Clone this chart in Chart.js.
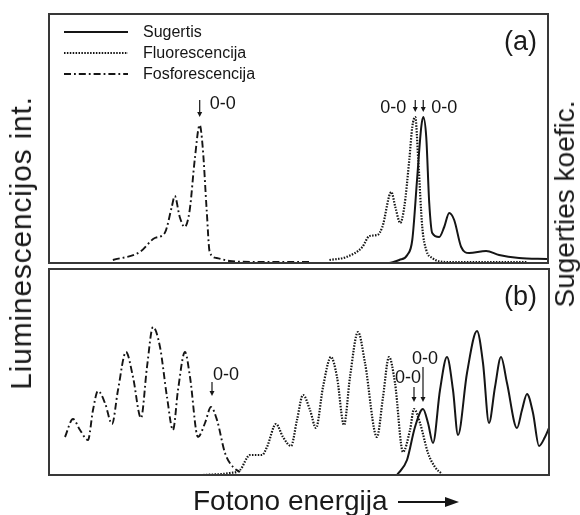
<!DOCTYPE html>
<html><head><meta charset="utf-8">
<script src="https://cdn.jsdelivr.net/npm/chart.js@4.4.1/dist/chart.umd.min.js"></script>
<style>
html,body{margin:0;padding:0;background:#fff;}
#wrap{position:relative;width:580px;height:515px;overflow:hidden;font-family:"Liberation Sans",Arial,sans-serif;color:#1a1a1a;}
canvas{position:absolute;left:0;top:0;}
.lbl{position:absolute;white-space:nowrap;line-height:1;}
.rot{transform:translate(-50%,-50%) rotate(-90deg);}
</style></head><body>
<div id="wrap">
<canvas id="ca" width="580" height="515"></canvas>
<canvas id="cb" width="580" height="515"></canvas>
<div class="lbl rot" style="left:21px;top:243px;font-size:30px;letter-spacing:0.8px;">Liuminescencijos int.</div>
<div class="lbl rot" style="left:565px;top:204px;font-size:28px;">Sugerties koefic.</div>
<div class="lbl" style="left:193px;top:487px;font-size:28px;">Fotono energija</div>
<div class="lbl" style="left:504px;top:28px;font-size:27px;">(a)</div>
<div class="lbl" style="left:504px;top:283px;font-size:27px;">(b)</div>
</div>
<script>
// ---------- data (arbitrary energy units / intensity units) ----------
const seriesLabels = ['Sugertis', 'Fluorescencija', 'Fosforescencija'];

// Panel (a)
const absA_x = [341,351,359,364,369,373,375,378,381,384,391,396,401,406,413,421,438,451,471,499];
const absA_y = [0,3,8,23,86,136,146,126,60,30,26,36,50,43,16,10,12,8,5,4];
const fluA_x = [281,298,314,321,329,334,343,347,352,356,361,364,367,370,374,378,384,398,479];
const fluA_y = [3,6,16,27,28,36,71,56,40,56,103,136,146,103,36,13,5,1,1];
const phoA_x = [64,91,106,116,123,126,131,136,141,146,151,154,158,161,168,181,211,261];
const phoA_y = [3,11,25,30,56,67,46,36,53,103,138,116,53,11,5,2,1,1];

// Panel (b)
const absB_x = [348,358,366,374,379,384,391,398,404,409,418,428,434,440,446,452,458,468,473,478,484,490,496,500];
const absB_y = [0,15,48,66,52,32,85,118,85,40,102,144,112,52,88,118,92,47,65,81,62,29,38,47];
const fluB_x = [154,181,191,201,213,218,227,234,242,248,254,261,267,274,282,288,295,301,309,316,328,334,340,346,354,361,365,371,379,386,393];
const fluB_y = [0,2,5,20,20,28,51,38,29,55,80,65,47,88,118,98,50,98,143,112,38,78,118,92,23,45,66,52,22,8,1];
const phoB_x = [16,24,31,39,44,49,56,63,69,77,84,92,98,104,111,118,124,129,136,141,149,156,162,168,176,184,191];
const phoB_y = [38,56,45,35,65,84,72,51,85,123,98,57,108,148,128,78,45,85,123,98,38,52,68,55,22,8,3];

// "0-0" markers: arrow x, arrow start y, arrow tip y, label x, label y, label align
const annA_x = [151, 367, 375];
const annA_from = [163, 163, 163];
const annA_to = [146, 151, 151];
const annA_tx = [161, 358, 383];
const annA_ty = [160, 156, 156];
const annA_align = ['left', 'right', 'left'];
const annA_text = ['0-0', '0-0', '0-0'];

const annB_x = [163, 365, 374];
const annB_from = [93, 88, 108];
const annB_to = [79, 73, 73];
const annB_tx = [164, 359, 376];
const annB_ty = [101, 98, 117];
const annB_align = ['left', 'center', 'center'];
const annB_text = ['0-0', '0-0', '0-0'];

// ---------- helpers ----------
const pts = (xs, ys) => xs.map((x, i) => ({x, y: ys[i]}));
const INK = '#151515';
const styles = [
  {borderDash: [], borderWidth: 2},
  {borderDash: [1.5, 1.4], borderWidth: 2.2},
  {borderDash: [7, 3, 1.8, 3], borderWidth: 1.9}
];
function ds(i, xs, ys) {
  return Object.assign({
    label: seriesLabels[i], data: pts(xs, ys), borderColor: INK, backgroundColor: INK,
    pointRadius: 0, fill: false, cubicInterpolationMode: 'monotone', borderCapStyle: 'butt'
  }, styles[i]);
}

const framePlugin = {
  id: 'frame',
  afterDraw(chart) {
    const {ctx, chartArea: a} = chart;
    ctx.save();
    ctx.strokeStyle = '#383838'; ctx.lineWidth = 2;
    ctx.strokeRect(a.left, a.top, a.right - a.left, a.bottom - a.top);
    ctx.restore();
  }
};

function annPlugin(ax, af, at, tx, ty, al, tt) {
  return {
    id: 'ann',
    afterDatasetsDraw(chart) {
      const {ctx, scales: {x, y}} = chart;
      ctx.save();
      ctx.strokeStyle = INK; ctx.fillStyle = INK; ctx.lineWidth = 1.2;
      for (let i = 0; i < ax.length; i++) {
        const px = x.getPixelForValue(ax[i]);
        const p0 = y.getPixelForValue(af[i]);
        const p1 = y.getPixelForValue(at[i]);
        ctx.beginPath(); ctx.moveTo(px, p0); ctx.lineTo(px, p1 - 4); ctx.stroke();
        ctx.beginPath(); ctx.moveTo(px - 2.5, p1 - 5); ctx.lineTo(px + 2.5, p1 - 5); ctx.lineTo(px, p1); ctx.closePath(); ctx.fill();
        ctx.font = '18px "Liberation Sans", Arial, sans-serif';
        ctx.textAlign = al[i]; ctx.textBaseline = 'middle';
        ctx.fillText(tt[i], x.getPixelForValue(tx[i]), y.getPixelForValue(ty[i]) + 1);
      }
      ctx.restore();
    }
  };
}

const legendPlugin = {
  id: 'leg',
  afterDraw(chart) {
    const {ctx} = chart;
    const rows = [32, 53, 74];
    ctx.save();
    chart.data.datasets.forEach((d, i) => {
      ctx.strokeStyle = INK; ctx.lineWidth = d.borderWidth; ctx.setLineDash(d.borderDash);
      ctx.beginPath(); ctx.moveTo(64, rows[i]); ctx.lineTo(128, rows[i]); ctx.stroke();
      ctx.setLineDash([]);
      ctx.fillStyle = INK; ctx.font = '16px "Liberation Sans", Arial, sans-serif';
      ctx.textAlign = 'left'; ctx.textBaseline = 'middle';
      ctx.fillText(d.label, 143, rows[i] + 1);
    });
    ctx.restore();
  }
};

const arrowPlugin = {
  id: 'xarrow',
  afterDraw(chart) {
    const {ctx} = chart;
    ctx.save();
    ctx.strokeStyle = INK; ctx.fillStyle = INK; ctx.lineWidth = 1.8;
    ctx.beginPath(); ctx.moveTo(398, 502); ctx.lineTo(448, 502); ctx.stroke();
    ctx.beginPath(); ctx.moveTo(445, 497); ctx.lineTo(459, 502); ctx.lineTo(445, 507); ctx.closePath(); ctx.fill();
    ctx.restore();
  }
};

function opts(pad, ymax) {
  return {
    responsive: false, animation: false, devicePixelRatio: 1,
    layout: {padding: pad},
    plugins: {legend: {display: false}, tooltip: {enabled: false}},
    scales: {
      x: {type: 'linear', min: 0, max: 500, display: false},
      y: {type: 'linear', min: 0, max: ymax, display: false}
    },
    elements: {line: {borderJoinStyle: 'round'}}
  };
}

new Chart(document.getElementById('ca'), {
  type: 'line',
  data: {datasets: [ds(0, absA_x, absA_y), ds(1, fluA_x, fluA_y), ds(2, phoA_x, phoA_y)]},
  options: opts({left: 49, top: 14, right: 32, bottom: 252}, 249),
  plugins: [framePlugin, annPlugin(annA_x, annA_from, annA_to, annA_tx, annA_ty, annA_align, annA_text), legendPlugin]
});

new Chart(document.getElementById('cb'), {
  type: 'line',
  data: {datasets: [ds(0, absB_x, absB_y), ds(1, fluB_x, fluB_y), ds(2, phoB_x, phoB_y)]},
  options: opts({left: 49, top: 269, right: 31, bottom: 40}, 206),
  plugins: [framePlugin, annPlugin(annB_x, annB_from, annB_to, annB_tx, annB_ty, annB_align, annB_text), arrowPlugin]
});
</script>
</body></html>
